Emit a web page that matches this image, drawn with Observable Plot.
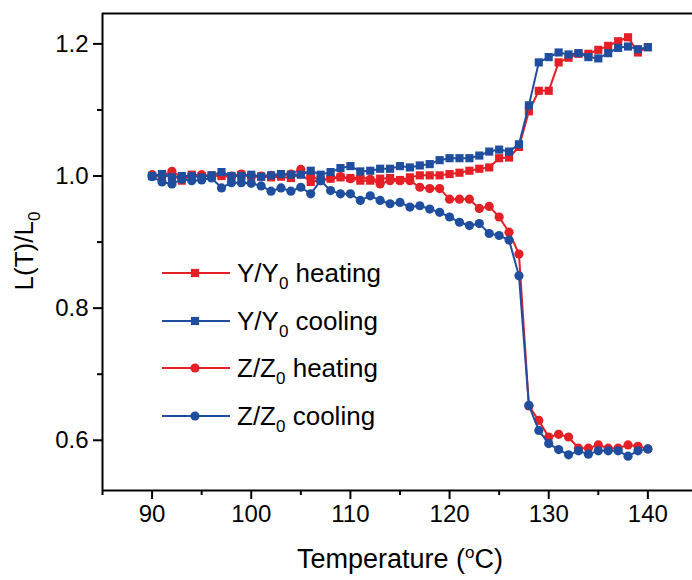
<!DOCTYPE html>
<html>
<head>
<meta charset="utf-8">
<script src="https://cdn.jsdelivr.net/npm/d3@7"></script>
<script src="https://cdn.jsdelivr.net/npm/@observablehq/plot@0.6"></script>
<style>
  html, body { margin: 0; padding: 0; background: #fff; }
  svg text { font-family: "Liberation Sans", Arial, sans-serif; }
</style>
</head>
<body>
<div id="chart"></div>
<script>
// ---- data ----
const temps = [90,91,92,93,94,95,96,97,98,99,100,101,102,103,104,105,106,107,108,109,110,
  111,112,113,114,115,116,117,118,119,120,121,122,123,124,125,126,127,128,129,130,
  131,132,133,134,135,136,137,138,139,140];

const yHeating = [1.000,1.000,1.002,0.993,1.002,1.000,1.001,1.000,0.999,1.002,0.999,
  0.999,0.998,0.999,0.997,1.003,0.991,0.994,0.996,0.998,0.997,
  0.993,0.993,0.996,0.997,0.994,0.998,1.001,1.001,1.001,1.003,
  1.005,1.008,1.011,1.013,1.027,1.028,1.044,1.098,1.129,1.129,
  1.172,1.179,1.185,1.185,1.191,1.197,1.204,1.210,1.187,1.195];

const yCooling = [1.000,1.003,0.998,1.000,1.000,0.998,1.001,1.006,1.000,1.000,1.002,
  0.999,1.001,1.003,1.002,1.002,1.008,1.002,1.006,1.012,1.015,
  1.007,1.008,1.011,1.011,1.015,1.013,1.016,1.018,1.024,1.027,
  1.027,1.027,1.031,1.037,1.040,1.037,1.048,1.107,1.172,1.180,
  1.187,1.184,1.186,1.180,1.178,1.186,1.194,1.196,1.192,1.195];

const zHeating = [1.002,1.000,1.007,0.998,1.001,1.002,1.000,1.001,1.000,1.003,1.000,
  1.000,1.001,1.002,1.003,1.010,1.000,0.993,0.997,0.999,0.996,
  0.998,0.995,0.988,0.993,0.993,0.993,0.983,0.981,0.981,0.965,
  0.965,0.965,0.951,0.954,0.938,0.915,0.882,0.652,0.630,0.605,
  0.609,0.605,0.588,0.588,0.593,0.588,0.588,0.593,0.591,0.587];

const zCooling = [0.999,0.991,0.988,0.995,0.993,0.994,0.997,0.982,0.990,0.990,0.989,
  0.985,0.977,0.982,0.977,0.983,0.973,0.993,0.978,0.973,0.973,
  0.963,0.970,0.963,0.958,0.960,0.953,0.955,0.950,0.945,0.938,
  0.930,0.925,0.928,0.913,0.910,0.903,0.849,0.653,0.615,0.595,
  0.586,0.578,0.584,0.579,0.584,0.584,0.584,0.576,0.584,0.587];

const xMajorTicks = [90,100,110,120,130,140];
const xMinorTicks = [85,95,105,115,125,135,145];
const yMajorTicks = [0.6,0.8,1.0,1.2];
const yMinorTicks = [0.7,0.9,1.1];

const RED = "#e41f26";
const BLUE = "#1f4e9f";

const series = [
  {key: "Y/Y0 heating", main: "Y/Y", sub: "0", rest: " heating", values: yHeating, color: RED, symbol: "square"},
  {key: "Z/Z0 heating", main: "Z/Z", sub: "0", rest: " heating", values: zHeating, color: RED, symbol: "circle"},
  {key: "Y/Y0 cooling", main: "Y/Y", sub: "0", rest: " cooling", values: yCooling, color: BLUE, symbol: "square"},
  {key: "Z/Z0 cooling", main: "Z/Z", sub: "0", rest: " cooling", values: zCooling, color: BLUE, symbol: "circle"}
];
const legendOrder = ["Y/Y0 heating","Y/Y0 cooling","Z/Z0 heating","Z/Z0 cooling"];

const seriesMarks = [];
for (const s of series) {
  const rows = temps.map((t, i) => ({t, v: s.values[i]}));
  seriesMarks.push(Plot.line(rows, {x: "t", y: "v", stroke: s.color, strokeWidth: 2}));
  seriesMarks.push(Plot.dot(rows, {x: "t", y: "v", fill: s.color, stroke: "none", symbol: s.symbol, r: 4.6}));
}

const X0 = 85, X1 = 144.5, Y0 = 0.524, Y1 = 1.246;

const svg = Plot.plot({
  width: 692,
  height: 580,
  marginLeft: 102,
  marginRight: 0,
  marginTop: 13,
  marginBottom: 90,
  x: {domain: [X0, X1]},
  y: {domain: [Y0, Y1]},
  style: {fontFamily: "'Liberation Sans', Arial, sans-serif", fontSize: "24px", color: "#000", background: "#fff"},
  marks: [
    Plot.axisX({ticks: xMajorTicks, tickSize: 9, tickPadding: 5, strokeWidth: 2, tickFormat: d => String(d), label: null, fontSize: 24}),
    Plot.axisX({ticks: xMinorTicks, tickSize: 5, strokeWidth: 2, tickFormat: () => "", label: null}),
    Plot.axisY({ticks: yMajorTicks, tickSize: 9, tickPadding: 5, strokeWidth: 2, tickFormat: d3.format(".1f"), label: null, fontSize: 24}),
    Plot.axisY({ticks: yMinorTicks, tickSize: 5, strokeWidth: 2, tickFormat: () => "", label: null}),
    Plot.ruleX([X0], {strokeWidth: 2}),
    Plot.ruleY([Y0, Y1], {strokeWidth: 2}),
    ...seriesMarks
  ]
});

const root = d3.select(svg);
const FONT = "'Liberation Sans', Arial, sans-serif";

// y-axis title
const yt = root.append("text")
  .attr("transform", "translate(33,251) rotate(-90)")
  .attr("text-anchor", "middle")
  .attr("font-family", FONT).attr("font-size", 26).attr("fill", "#000");
yt.append("tspan").text("L(T)/L");
yt.append("tspan").attr("font-size", 17).attr("dy", 7).text("0");

// x-axis title
const xt = root.append("text")
  .attr("x", 400).attr("y", 568)
  .attr("text-anchor", "middle")
  .attr("font-family", FONT).attr("font-size", 27).attr("fill", "#000");
xt.append("tspan").text("Temperature (");
xt.append("tspan").attr("font-size", 17).attr("dy", -10).text("o");
xt.append("tspan").attr("dy", 10).text("C)");

// legend
const legendRowsY = [273, 321, 368, 416];
legendOrder.forEach((k, i) => {
  const s = series.find(d => d.key === k);
  const y = legendRowsY[i];
  const g = root.append("g");
  g.append("line").attr("x1", 162).attr("x2", 230).attr("y1", y).attr("y2", y)
    .attr("stroke", s.color).attr("stroke-width", 2);
  const sym = s.symbol === "square" ? d3.symbolSquare : d3.symbolCircle;
  g.append("path").attr("d", d3.symbol(sym, Math.PI * 4.6 * 4.6)())
    .attr("transform", `translate(195,${y})`).attr("fill", s.color);
  const t = g.append("text").attr("x", 237).attr("y", y + 9)
    .attr("text-anchor", "start")
    .attr("font-family", FONT).attr("font-size", 26).attr("fill", "#000")
    .style("white-space", "pre");
  t.append("tspan").text(s.main);
  t.append("tspan").attr("font-size", 17).attr("dy", 7).text(s.sub);
  t.append("tspan").attr("dy", -7).text(s.rest);
});

document.getElementById("chart").appendChild(svg);
</script>
</body>
</html>
